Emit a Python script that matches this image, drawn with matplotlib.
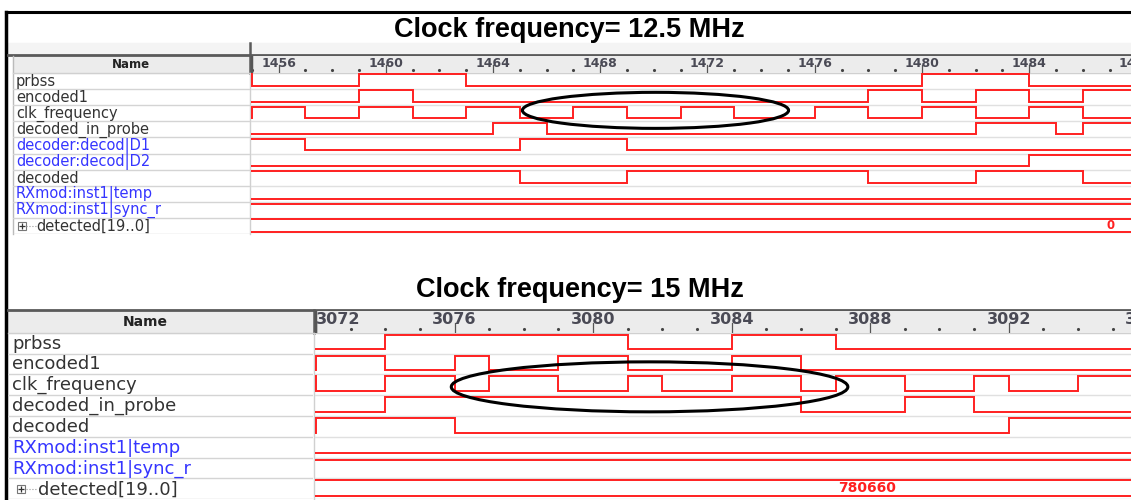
import matplotlib.pyplot as plt
from matplotlib.patches import Ellipse, Rectangle

W, H = 1131, 500
RED = '#ff2020'
BLUE = '#3535ff'
DARK = '#333333'

# ---- capture at 12.5 MHz ----
top_names = ['prbss', 'encoded1', 'clk_frequency', 'decoded_in_probe',
             'decoder:decod|D1', 'decoder:decod|D2', 'decoded',
             'RXmod:inst1|temp', 'RXmod:inst1|sync_r', 'detected[19..0]']
top_blue = [0, 0, 0, 0, 1, 1, 0, 1, 1, 0]
top_init = [1, 0, 0, 0, 1, 0, 1, 0, 1]
top_edges = [
    [1455, 1459, 1463, 1480, 1484],
    [1459, 1461, 1478, 1480, 1482, 1484, 1486],
    [1455, 1457, 1459, 1461, 1463, 1465, 1467, 1469, 1471, 1473,
     1476, 1478, 1480, 1482, 1484, 1486],
    [1464, 1466, 1482, 1485, 1486],
    [1457, 1465, 1469],
    [1484],
    [1465, 1469, 1478, 1482, 1486],
    [],
    [],
]
top_bus_value = '0'
top_bus_time = 1487.05
top_span = (1454.97, 1487.8)
top_labels = [1456, 1460, 1464, 1468, 1472, 1476, 1480, 1484, 1488]

# ---- capture at 15 MHz ----
bot_names = ['prbss', 'encoded1', 'clk_frequency', 'decoded_in_probe',
             'decoded', 'RXmod:inst1|temp', 'RXmod:inst1|sync_r',
             'detected[19..0]']
bot_blue = [0, 0, 0, 0, 0, 1, 1, 0]
bot_init = [0, 0, 1, 0, 0, 0, 1]
bot_edges = [
    [3074, 3081, 3084, 3087],
    [3072, 3074, 3076, 3077, 3079, 3081, 3084, 3086],
    [3072, 3074, 3076, 3077, 3079, 3081, 3082, 3084, 3086, 3087,
     3089, 3091, 3092, 3094],
    [3074, 3086, 3089, 3091],
    [3072, 3076, 3092],
    [],
    [],
]
bot_bus_value = '780660'
bot_bus_time = 3087.9
bot_span = (3071.97, 3095.53)
bot_labels = [3072, 3076, 3080, 3084, 3088, 3092, 3096]


def rect(x0, y0, x1, y1):
    return [x0 / W, 1 - y1 / H, (x1 - x0) / W, (y1 - y0) / H]


def draw_wave(ax, row, init, edges, span):
    hi, lo = row + 0.1, row + 0.8
    level = init
    xs, ys = [span[0]], [hi if level else lo]
    for e in edges:
        xs += [e, e]
        ys += [hi if level else lo, lo if level else hi]
        level = 1 - level
    xs.append(span[1])
    ys.append(hi if level else lo)
    ax.plot(xs, ys, color=RED, lw=1.4, solid_joinstyle='miter')


def panel(fig, names, blue, init, edges, bus_value, bus_time, span, labels,
          name_box, wave_box, rule_y, fs_name, fs_tick, fs_bus, icon_x, text_x):
    n = len(names)
    # name column
    axn = fig.add_axes(rect(*name_box))
    axn.set_xlim(0, 1)
    axn.set_ylim(n, 0)
    axn.axis('off')
    for i, name in enumerate(names):
        x = text_x if i == n - 1 else 0.013
        axn.text(x, i + 0.52, name, va='center', ha='left', fontsize=fs_name,
                 color=BLUE if blue[i] else DARK)
        axn.axhline(i + 1, color='#d4d4d4', lw=1)
    axn.plot([icon_x], [n - 0.5], marker='s', ms=6, mfc='white', mec='#777777', mew=0.8)
    axn.plot([icon_x], [n - 0.5], marker='+', ms=4, mec='#333333', mew=0.9)
    axn.plot([icon_x + 0.015, text_x - 0.005], [n - 0.5, n - 0.5],
             color='#999999', lw=0.8, ls=':')

    # waveforms
    axw = fig.add_axes(rect(*wave_box))
    axw.set_xlim(*span)
    axw.set_ylim(n, 0)
    axw.axis('off')
    for i in range(n):
        axw.axhline(i + 1, color='#e0e0e0', lw=1)
    for i, (lv, ed) in enumerate(zip(init, edges)):
        draw_wave(axw, i, lv, ed, span)
    axw.plot(span, [n - 0.93, n - 0.93], color=RED, lw=1.4)
    axw.plot(span, [n - 0.17, n - 0.17], color=RED, lw=1.4)
    axw.text(bus_time, n - 0.52, bus_value, color=RED, fontsize=fs_bus,
             ha='center', va='center', fontweight='bold')

    # time ruler
    axr = fig.add_axes(rect(wave_box[0], rule_y[0], wave_box[2], rule_y[1]))
    axr.set_xlim(*span)
    axr.set_ylim(1, 0)
    axr.set_facecolor('#ececec')
    axr.set_xticks([])
    axr.set_yticks([])
    for s in axr.spines.values():
        s.set_visible(False)
    first = int(span[0]) + 1 if span[0] % 1 else int(span[0])
    dots = [u for u in range(first, int(span[1]) + 1) if u not in labels]
    axr.plot(dots, [0.85] * len(dots), ls='none', marker='.', ms=2.5, color='#444444')
    for lab in labels:
        axr.plot([lab, lab], [0.55, 1.0], color='#555555', lw=0.9)
        ha = 'left' if lab - span[0] < 0.5 else 'center'
        axr.text(lab, 0.42, str(lab), ha=ha, va='center', fontsize=fs_tick,
                 color='#4a4a55', fontweight='bold', clip_on=True)
    axr.axvline(span[0], color='#555555', lw=2.5)
    return axw


fig = plt.figure(figsize=(W / 100, H / 100), dpi=100)

# page frame, titles and header bars
bg = fig.add_axes([0, 0, 1, 1])
bg.set_xlim(0, W)
bg.set_ylim(H, 0)
bg.axis('off')
bg.plot([6, W], [12, 12], color='black', lw=2.2)
bg.plot([6, 6], [12, H], color='black', lw=2.5)
bg.text(569, 30, 'Clock frequency= 12.5 MHz', ha='center', va='center',
        fontsize=19.5, fontweight='bold', family='Liberation Sans')
bg.text(580, 290, 'Clock frequency= 15 MHz', ha='center', va='center',
        fontsize=19.5, fontweight='bold', family='Liberation Sans')
# upper toolbar strip and header row
bg.add_patch(Rectangle((8, 43), W - 8, 12, color='#f4f4f4'))
bg.plot([8, W], [55, 55], color='#5a5a5a', lw=2)
bg.add_patch(Rectangle((13, 56), 237, 16.7, color='#ececec'))
bg.plot([250, 250], [43, 72.7], color='#5a5a5a', lw=1.8)
bg.plot([12.5, 12.5], [56, 234.3], color='#bbbbbb', lw=1)
bg.plot([250, 250], [72.7, 234.3], color='#d0d0d0', lw=1)
bg.text(131, 65, 'Name', ha='center', va='center', fontsize=8.5, fontweight='bold', color='#222222')
bg.plot([13, W], [72.7, 72.7], color='#d0d0d0', lw=1)
# lower header row
bg.plot([8, W], [309.5, 309.5], color='#5a5a5a', lw=2)
bg.add_patch(Rectangle((8, 310.5), 305, 22, color='#ececec'))
bg.plot([313.5, 313.5], [310, 332.7], color='#5a5a5a', lw=1.8)
bg.plot([313.5, 313.5], [332.7, H], color='#d0d0d0', lw=1)
bg.text(145, 322, 'Name', ha='center', va='center', fontsize=10, fontweight='bold', color='#222222')
bg.plot([8, W], [332.7, 332.7], color='#d0d0d0', lw=1)

ax_top = panel(fig, top_names, top_blue, top_init, top_edges, top_bus_value,
               top_bus_time, top_span, top_labels,
               (13, 72.7, 250, 234.3), (251, 72.7, W, 234.3), (56, 72.7),
               10.5, 9, 8.5, 0.038, 0.1)
ax_bot = panel(fig, bot_names, bot_blue, bot_init, bot_edges, bot_bus_value,
               bot_bus_time, bot_span, bot_labels,
               (8, 332.7, 313, 499.3), (315, 332.7, W, 499.3), (310.5, 332.7),
               13, 11.5, 10, 0.043, 0.098)

# highlight the clock region in both captures
ax_top.add_patch(Ellipse((1470.06, 2.33), 9.93, 2.23, fill=False,
                         ec='black', lw=2.2, clip_on=False, zorder=5))
ax_bot.add_patch(Ellipse((3081.63, 2.6), 11.45, 2.4, fill=False,
                         ec='black', lw=2.2, clip_on=False, zorder=5))

fig.savefig('out.png', dpi=100)
